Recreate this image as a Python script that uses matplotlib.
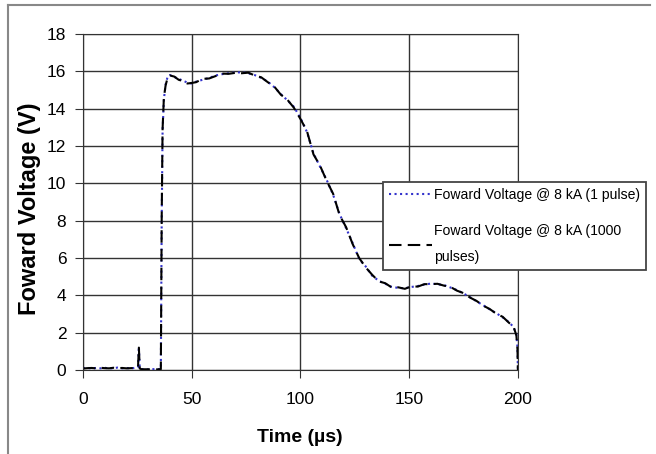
import matplotlib
matplotlib.use("Agg")
import matplotlib.pyplot as plt
from matplotlib.lines import Line2D

plt.rcParams["font.family"] = ["Liberation Sans", "DejaVu Sans"]

# temps (µs) et tension directe (V)
time_us = [0, 2, 4, 6, 8, 10, 12, 14, 16, 18, 20, 22, 24, 25.3, 25.7, 26.1, 27, 30, 33,
           35.8, 36.2, 36.6, 37.2, 38, 39, 40, 42, 44, 46, 48, 50, 52, 55, 58, 61, 64,
           67, 70, 73, 76, 79, 82, 85, 88, 91, 94, 97, 100, 103, 106, 109, 112, 115,
           118, 121, 124, 127, 130, 133, 136, 139, 142, 145, 148, 151, 154, 157, 160,
           163, 166, 169, 172, 175, 178, 181, 184, 187, 190, 193, 196, 198, 199.3,
           199.8, 200]
v_1pulse = [0.10, 0.12, 0.08, 0.11, 0.09, 0.12, 0.08, 0.10, 0.13, 0.09, 0.11, 0.08, 0.12,
            0.15, 1.25, 0.10, 0.05, 0.03, 0.05, 0.05, 8.0, 12.8, 14.5, 15.3, 15.75, 15.8,
            15.7, 15.6, 15.5, 15.4, 15.35, 15.45, 15.55, 15.65, 15.78, 15.85, 15.9, 15.94,
            15.95, 15.9, 15.8, 15.65, 15.45, 15.15, 14.78, 14.45, 14.1, 13.5, 12.75, 11.6,
            10.9, 10.2, 9.4, 8.35, 7.6, 6.8, 5.95, 5.55, 5.05, 4.78, 4.62, 4.45, 4.4, 4.38,
            4.45, 4.5, 4.58, 4.63, 4.6, 4.55, 4.42, 4.28, 4.1, 3.9, 3.68, 3.47, 3.25, 3.05,
            2.82, 2.55, 2.3, 1.9, 1.2, 0.0]
v_1000pulses = [0.08, 0.10, 0.11, 0.09, 0.12, 0.10, 0.09, 0.12, 0.10, 0.11, 0.09, 0.10, 0.11,
                0.14, 1.2, 0.08, 0.04, 0.04, 0.03, 0.04, 8.2, 12.9, 14.6, 15.25, 15.7, 15.78,
                15.72, 15.55, 15.48, 15.35, 15.38, 15.42, 15.6, 15.62, 15.75, 15.88, 15.87,
                15.92, 15.9, 15.93, 15.78, 15.68, 15.42, 15.18, 14.75, 14.48, 14.05, 13.45,
                12.8, 11.55, 10.95, 10.15, 9.45, 8.3, 7.65, 6.75, 6.0, 5.5, 5.1, 4.75, 4.65,
                4.42, 4.43, 4.35, 4.48, 4.47, 4.6, 4.6, 4.62, 4.52, 4.45, 4.25, 4.12, 3.88,
                3.7, 3.45, 3.27, 3.02, 2.85, 2.52, 2.32, 1.85, 1.1, 0.0]

fig = plt.figure(figsize=(6.56, 4.54), dpi=100)
ax = fig.add_axes([0.1265, 0.185, 0.663, 0.74])

ax.plot(time_us, v_1pulse, color="#3333cc", ls=":", lw=1.5,
        label="Foward Voltage @ 8 kA (1 pulse)")
ax.plot(time_us, v_1000pulses, color="black", lw=1.5, dashes=(6, 3),
        label="Foward Voltage @ 8 kA (1000\npulses)")

ax.set_xlim(0, 200)
ax.set_ylim(0, 18)
ax.set_xticks(range(0, 201, 50))
ax.set_yticks(range(0, 19, 2))
ax.grid(True, color="#333333", lw=1.0)
ax.set_axisbelow(True)
for s in ax.spines.values():
    s.set_color("#333333")
ax.tick_params(direction="out", color="#333333", labelsize=12.5)
ax.tick_params(axis="x", length=6, pad=10)
ax.tick_params(axis="y", length=6, pad=6)
ax.set_xlabel("Time (µs)", fontsize=14, fontweight="bold")
ax.set_ylabel("Foward Voltage (V)", fontsize=17, fontweight="bold")
ax.xaxis.set_label_coords(0.499, -0.176)
ax.yaxis.set_label_coords(-0.096, 0.479)

leg = fig.legend(loc="upper left", bbox_to_anchor=(383 / 656, 1 - 182 / 454), fontsize=10.1,
                 frameon=True, fancybox=False, edgecolor="#444444", framealpha=1,
                 handlelength=3.1, handletextpad=0.15, labelspacing=1.6,
                 borderpad=0.4, borderaxespad=0)
leg.get_frame().set_linewidth(1.3)
for t in leg.get_texts():
    t.set_linespacing(2.1)

# cadre gris (haut + gauche) de l'image d'origine
fig.add_artist(Line2D([8 / 656, 650 / 656], [1 - 5 / 454, 1 - 5 / 454], color="#888888", lw=1.5))
fig.add_artist(Line2D([8 / 656, 8 / 656], [0, 1 - 5 / 454], color="#888888", lw=1.5))

fig.savefig("out.png", dpi=100)
